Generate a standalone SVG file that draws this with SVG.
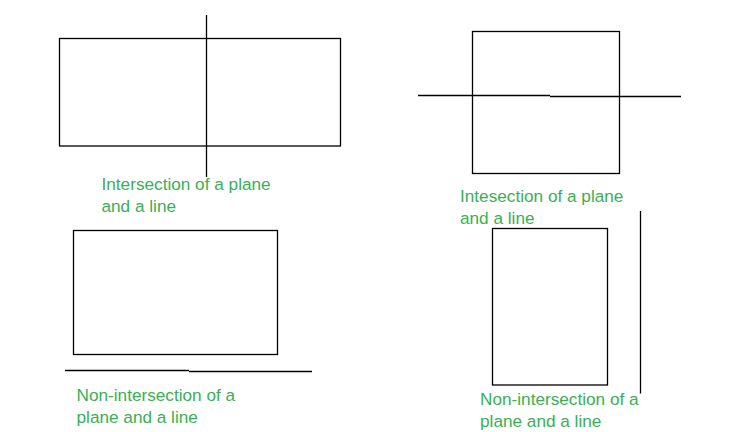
<svg xmlns="http://www.w3.org/2000/svg" width="740" height="432" viewBox="0 0 740 432">
<style>
.plane{fill:none;stroke:#000;stroke-width:1.3}
.ln{fill:none;stroke:#000;stroke-width:1.3}
.lbl{font-family:"Liberation Sans",Arial,sans-serif;font-size:17.2px;fill:#3aaf55}
</style>
<rect width="740" height="432" fill="#fff"/>
<g id="plane1"><rect class="plane" x="59.5" y="38.5" width="281" height="107.5"/></g>
<g id="plane2"><rect class="plane" x="472.5" y="31.5" width="147" height="142"/></g>
<g id="plane3"><rect class="plane" x="73.5" y="230.5" width="204" height="124"/></g>
<g id="plane4"><rect class="plane" x="492.5" y="228.5" width="115" height="156.5"/></g>
<g id="connectors">
<line class="ln" x1="206.5" y1="15" x2="206.5" y2="177"/>
<path class="ln" d="M418 95.5H550M550 96.5H681"/>
<path class="ln" d="M65 370.5H189M189 371.5H312"/>
<line class="ln" x1="640.5" y1="211" x2="640.5" y2="393.5"/>
</g>
<g id="labels">
<text class="lbl" x="101.5" y="189.5">Intersection of a plane</text>
<text class="lbl" x="101.5" y="211.5">and a line</text>
<text class="lbl" x="460" y="201.5">Intesection of a plane</text>
<text class="lbl" x="460" y="223.5">and a line</text>
<text class="lbl" x="76.5" y="401">Non-intersection of a</text>
<text class="lbl" x="76.5" y="423">plane and a line</text>
<text class="lbl" x="480" y="404.5">Non-intersection of a</text>
<text class="lbl" x="480" y="426.5">plane and a line</text>
</g>
</svg>
